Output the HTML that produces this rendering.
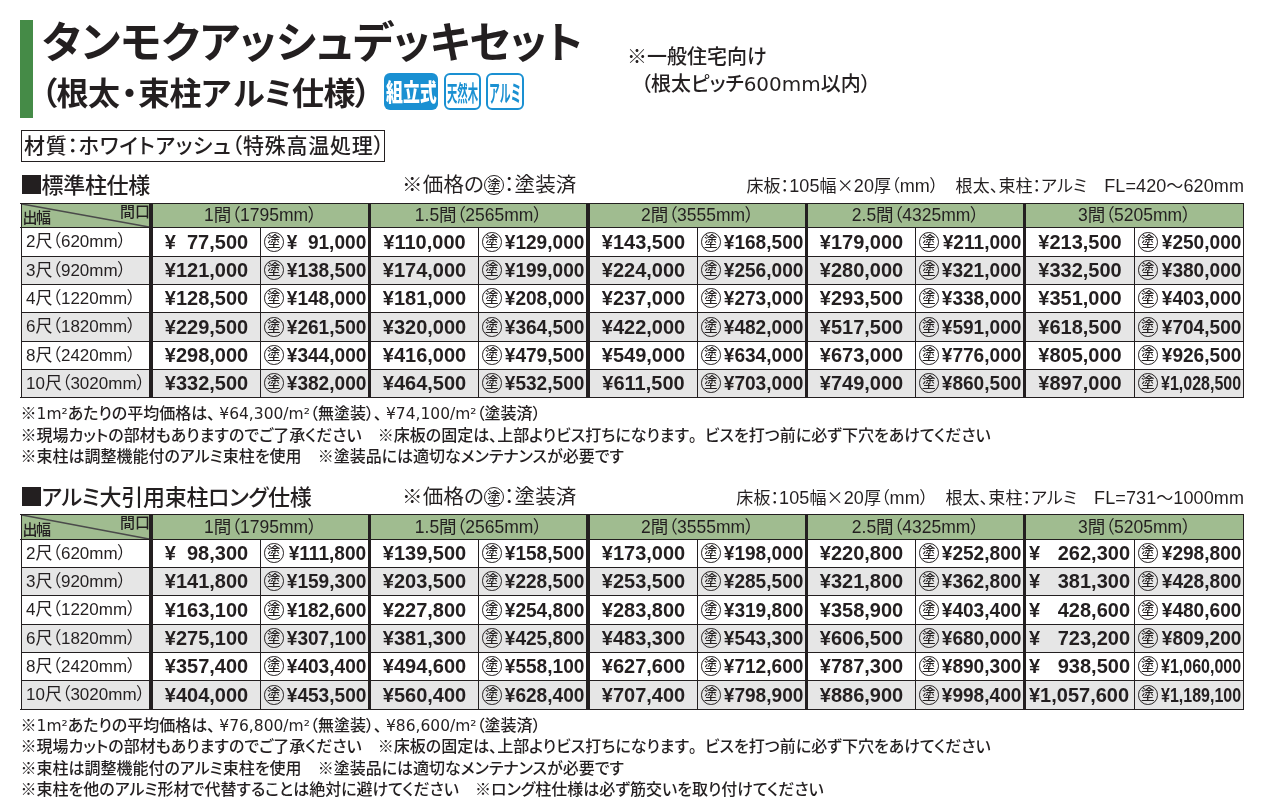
<!DOCTYPE html>
<html lang="ja"><head><meta charset="utf-8"><title>タンモクアッシュデッキセット</title>
<style>
*{margin:0;padding:0;box-sizing:border-box}
html,body{width:1261px;height:807px;overflow:hidden;background:#fff}
body{position:relative;color:#231f20;font-family:'Liberation Sans','Noto Sans CJK JP',sans-serif}
.bg,.ln,.t{position:absolute}
.ln{background:#231f20}
.t{white-space:nowrap}
.palt{font-feature-settings:'palt'}
.corner1,.corner2{font-size:15px;line-height:18px;font-family:'Noto Sans CJK JP',sans-serif;font-weight:500}
.hd{text-align:center;font-size:17.5px;font-feature-settings:'palt'}
.lb{font-size:17px;font-feature-settings:'palt'}
.pr{text-align:center;font-family:'Liberation Sans',sans-serif;font-weight:700;font-size:20px}
.pb .pv{display:inline-block;transform:scaleX(.955);transform-origin:right center}
.pr.pb{text-align:right}
.fs{display:inline-block;width:11px}
.nuri{position:absolute;width:19.5px;height:19.5px;border:1.3px solid #231f20;border-radius:50%;font:500 13.5px/15px 'Noto Sans CJK JP',sans-serif;text-align:center;letter-spacing:0}
.pb.cond .pv{display:inline-block;transform:scaleX(.8);transform-origin:right center}
.note{font-family:'Noto Sans CJK JP',sans-serif;font-size:16px;line-height:22px;font-weight:500}
.lt{font-family:'DejaVu Sans',sans-serif;font-size:15.5px;font-weight:400}
.fw{font-feature-settings:normal}
.tc{margin-right:4px}
.km{font-weight:700}
.ls{font-size:18px}
.wide{display:flex;justify-content:space-between;padding:0 4px 0 3px}
</style></head>
<body>
<div class="bg" style="left:20px;top:20px;width:13px;height:98px;background:#458b47"></div>
<div class="t" style="left:42px;top:14px;font:700 43px/1.2 'Noto Sans CJK JP',sans-serif;font-feature-settings:'palt';letter-spacing:0px">タンモクアッシュデッキセット</div>
<div class="t" style="left:41px;top:72px;font:700 32px/1.2 'Noto Sans CJK JP',sans-serif;font-feature-settings:'palt';letter-spacing:-0.5px">（根太<span style="margin:0 1px 0 2px">・</span>束柱ア<span style="margin-left:3px">ル</span>ミ仕様）</div>
<div class="bg" style="left:384px;top:73px;width:54px;height:37px;background:#1a90d2;border-radius:6px"></div>
<div class="t" style="left:385.5px;top:76px;width:52px;height:30px;color:#fff;font:900 24px/30px 'Noto Sans CJK JP',sans-serif;"><span style="display:inline-block;transform:scaleX(.705);transform-origin:left center">組立式</span></div>
<div class="bg" style="left:444px;top:73px;width:37px;height:37px;border:2.2px solid #1a90d2;border-radius:6px"></div>
<div class="t" style="left:447px;top:76px;color:#1a90d2;font:700 22px/30px 'Noto Sans CJK JP',sans-serif;"><span style="display:inline-block;transform:scaleX(.47);transform-origin:left center">天然木</span></div>
<div class="bg" style="left:486px;top:73px;width:38px;height:37px;border:2.2px solid #1a90d2;border-radius:6px"></div>
<div class="t" style="left:489px;top:76.5px;color:#1a90d2;font:700 23.5px/30px 'Noto Sans CJK JP',sans-serif;"><span style="display:inline-block;transform:scaleX(.46);transform-origin:left center">アルミ</span></div>
<div class="t palt" style="left:627px;top:42px;font-size:20px;line-height:28px;font-weight:500;font-family:'Noto Sans CJK JP',sans-serif"><span class="km">※</span>一般住宅向け</div>
<div class="t palt" style="left:641px;top:69px;font-size:20px;line-height:28px;font-weight:500;font-family:'Noto Sans CJK JP',sans-serif">（根太ピッチ<span style="font-family:'DejaVu Sans'">600mm</span>以内）</div>
<div class="bg" style="left:21px;top:130px;width:364px;height:32px;border:1px solid #231f20"></div>
<div class="t palt" style="left:24px;top:131px;font-size:21px;line-height:30px;letter-spacing:0.75px;font-weight:500">材質：ホワイトアッシュ（特殊高温処理）</div>
<div class="bg" style="left:22px;top:175px;width:19px;height:19px;background:#231f20"></div>
<div class="t palt" style="left:41.5px;top:169px;font-size:22px;line-height:28px;font-weight:500;font-family:'Noto Sans CJK JP',sans-serif;letter-spacing:-0.3px">標準柱仕様</div>
<div class="t palt" style="left:402px;top:171px;font-size:20.5px;line-height:28px;letter-spacing:0.2px"><span class="km">※</span>価格の</div>
<div class="nuri" style="left:484px;top:175px;width:20px;height:20px;font-size:13.5px;line-height:16.5px">塗</div>
<div class="t palt" style="left:504px;top:171px;font-size:20.5px;line-height:28px;letter-spacing:0.2px">：塗装済</div>
<div class="t palt" style="right:17px;top:172px;font-size:17px;line-height:26px;letter-spacing:0.1px">床板：<span class="ls">105</span>幅<span style="font-family:'Noto Sans CJK JP'">×</span><span class="ls">20</span>厚（<span class="ls">mm</span>）　根太、束柱：アルミ　<span class="ls">FL=420</span>〜<span class="ls">620mm</span></div>
<div class="bg" style="left:21px;top:203px;width:1223px;height:24px;background:#a0bc90"></div>
<div class="bg" style="left:21px;top:256px;width:1223px;height:28px;background:#e6e6e6"></div>
<div class="bg" style="left:21px;top:312px;width:1223px;height:29px;background:#e6e6e6"></div>
<div class="bg" style="left:21px;top:369px;width:1223px;height:28px;background:#e6e6e6"></div>
<svg class="bg" style="left:21px;top:203px" width="130" height="25"><line x1="1" y1="1" x2="128" y2="24" stroke="#4a4a4a" stroke-width="1.4"/></svg>
<div class="t corner1" style="left:22.5px;top:208px;letter-spacing:-1.5px">出幅</div>
<div class="t corner2" style="left:120px;top:202px">間口</div>
<div class="t hd" style="left:153px;top:203px;width:215px;height:24px;line-height:25px">1間（1795mm）</div>
<div class="t hd" style="left:371px;top:203px;width:215px;height:24px;line-height:25px">1.5間（2565mm）</div>
<div class="t hd" style="left:590px;top:203px;width:215px;height:24px;line-height:25px">2間（3555mm）</div>
<div class="t hd" style="left:808px;top:203px;width:215px;height:24px;line-height:25px">2.5間（4325mm）</div>
<div class="t hd" style="left:1026px;top:203px;width:217px;height:24px;line-height:25px">3間（5205mm）</div>
<div class="t lb" style="left:26px;top:227px;height:29px;line-height:30px">2尺（620mm）</div>
<div class="t pr" style="left:153px;top:227px;width:107px;height:29px;line-height:30px">¥<span class="fs"></span>77,500</div>
<div class="nuri" style="left:264px;top:232px">塗</div>
<div class="t pr pb" style="left:261px;top:227px;width:105.5px;height:29px;line-height:30px"><span class="pv">¥<span class="fs"></span>91,000</span></div>
<div class="t pr" style="left:371px;top:227px;width:107px;height:29px;line-height:30px">¥110,000</div>
<div class="nuri" style="left:482px;top:232px">塗</div>
<div class="t pr pb" style="left:479px;top:227px;width:105.5px;height:29px;line-height:30px"><span class="pv">¥129,000</span></div>
<div class="t pr" style="left:590px;top:227px;width:107px;height:29px;line-height:30px">¥143,500</div>
<div class="nuri" style="left:701px;top:232px">塗</div>
<div class="t pr pb" style="left:698px;top:227px;width:105.5px;height:29px;line-height:30px"><span class="pv">¥168,500</span></div>
<div class="t pr" style="left:808px;top:227px;width:107px;height:29px;line-height:30px">¥179,000</div>
<div class="nuri" style="left:919px;top:232px">塗</div>
<div class="t pr pb" style="left:916px;top:227px;width:105.5px;height:29px;line-height:30px"><span class="pv">¥211,000</span></div>
<div class="t pr" style="left:1026px;top:227px;width:108px;height:29px;line-height:30px">¥213,500</div>
<div class="nuri" style="left:1138px;top:232px">塗</div>
<div class="t pr pb" style="left:1135px;top:227px;width:106.5px;height:29px;line-height:30px"><span class="pv">¥250,000</span></div>
<div class="t lb" style="left:26px;top:256px;height:28px;line-height:29px">3尺（920mm）</div>
<div class="t pr" style="left:153px;top:256px;width:107px;height:28px;line-height:29px">¥121,000</div>
<div class="nuri" style="left:264px;top:260px">塗</div>
<div class="t pr pb" style="left:261px;top:256px;width:105.5px;height:28px;line-height:29px"><span class="pv">¥138,500</span></div>
<div class="t pr" style="left:371px;top:256px;width:107px;height:28px;line-height:29px">¥174,000</div>
<div class="nuri" style="left:482px;top:260px">塗</div>
<div class="t pr pb" style="left:479px;top:256px;width:105.5px;height:28px;line-height:29px"><span class="pv">¥199,000</span></div>
<div class="t pr" style="left:590px;top:256px;width:107px;height:28px;line-height:29px">¥224,000</div>
<div class="nuri" style="left:701px;top:260px">塗</div>
<div class="t pr pb" style="left:698px;top:256px;width:105.5px;height:28px;line-height:29px"><span class="pv">¥256,000</span></div>
<div class="t pr" style="left:808px;top:256px;width:107px;height:28px;line-height:29px">¥280,000</div>
<div class="nuri" style="left:919px;top:260px">塗</div>
<div class="t pr pb" style="left:916px;top:256px;width:105.5px;height:28px;line-height:29px"><span class="pv">¥321,000</span></div>
<div class="t pr" style="left:1026px;top:256px;width:108px;height:28px;line-height:29px">¥332,500</div>
<div class="nuri" style="left:1138px;top:260px">塗</div>
<div class="t pr pb" style="left:1135px;top:256px;width:106.5px;height:28px;line-height:29px"><span class="pv">¥380,000</span></div>
<div class="t lb" style="left:26px;top:284px;height:28px;line-height:29px">4尺（1220mm）</div>
<div class="t pr" style="left:153px;top:284px;width:107px;height:28px;line-height:29px">¥128,500</div>
<div class="nuri" style="left:264px;top:288px">塗</div>
<div class="t pr pb" style="left:261px;top:284px;width:105.5px;height:28px;line-height:29px"><span class="pv">¥148,000</span></div>
<div class="t pr" style="left:371px;top:284px;width:107px;height:28px;line-height:29px">¥181,000</div>
<div class="nuri" style="left:482px;top:288px">塗</div>
<div class="t pr pb" style="left:479px;top:284px;width:105.5px;height:28px;line-height:29px"><span class="pv">¥208,000</span></div>
<div class="t pr" style="left:590px;top:284px;width:107px;height:28px;line-height:29px">¥237,000</div>
<div class="nuri" style="left:701px;top:288px">塗</div>
<div class="t pr pb" style="left:698px;top:284px;width:105.5px;height:28px;line-height:29px"><span class="pv">¥273,000</span></div>
<div class="t pr" style="left:808px;top:284px;width:107px;height:28px;line-height:29px">¥293,500</div>
<div class="nuri" style="left:919px;top:288px">塗</div>
<div class="t pr pb" style="left:916px;top:284px;width:105.5px;height:28px;line-height:29px"><span class="pv">¥338,000</span></div>
<div class="t pr" style="left:1026px;top:284px;width:108px;height:28px;line-height:29px">¥351,000</div>
<div class="nuri" style="left:1138px;top:288px">塗</div>
<div class="t pr pb" style="left:1135px;top:284px;width:106.5px;height:28px;line-height:29px"><span class="pv">¥403,000</span></div>
<div class="t lb" style="left:26px;top:312px;height:29px;line-height:30px">6尺（1820mm）</div>
<div class="t pr" style="left:153px;top:312px;width:107px;height:29px;line-height:30px">¥229,500</div>
<div class="nuri" style="left:264px;top:317px">塗</div>
<div class="t pr pb" style="left:261px;top:312px;width:105.5px;height:29px;line-height:30px"><span class="pv">¥261,500</span></div>
<div class="t pr" style="left:371px;top:312px;width:107px;height:29px;line-height:30px">¥320,000</div>
<div class="nuri" style="left:482px;top:317px">塗</div>
<div class="t pr pb" style="left:479px;top:312px;width:105.5px;height:29px;line-height:30px"><span class="pv">¥364,500</span></div>
<div class="t pr" style="left:590px;top:312px;width:107px;height:29px;line-height:30px">¥422,000</div>
<div class="nuri" style="left:701px;top:317px">塗</div>
<div class="t pr pb" style="left:698px;top:312px;width:105.5px;height:29px;line-height:30px"><span class="pv">¥482,000</span></div>
<div class="t pr" style="left:808px;top:312px;width:107px;height:29px;line-height:30px">¥517,500</div>
<div class="nuri" style="left:919px;top:317px">塗</div>
<div class="t pr pb" style="left:916px;top:312px;width:105.5px;height:29px;line-height:30px"><span class="pv">¥591,000</span></div>
<div class="t pr" style="left:1026px;top:312px;width:108px;height:29px;line-height:30px">¥618,500</div>
<div class="nuri" style="left:1138px;top:317px">塗</div>
<div class="t pr pb" style="left:1135px;top:312px;width:106.5px;height:29px;line-height:30px"><span class="pv">¥704,500</span></div>
<div class="t lb" style="left:26px;top:341px;height:28px;line-height:29px">8尺（2420mm）</div>
<div class="t pr" style="left:153px;top:341px;width:107px;height:28px;line-height:29px">¥298,000</div>
<div class="nuri" style="left:264px;top:345px">塗</div>
<div class="t pr pb" style="left:261px;top:341px;width:105.5px;height:28px;line-height:29px"><span class="pv">¥344,000</span></div>
<div class="t pr" style="left:371px;top:341px;width:107px;height:28px;line-height:29px">¥416,000</div>
<div class="nuri" style="left:482px;top:345px">塗</div>
<div class="t pr pb" style="left:479px;top:341px;width:105.5px;height:28px;line-height:29px"><span class="pv">¥479,500</span></div>
<div class="t pr" style="left:590px;top:341px;width:107px;height:28px;line-height:29px">¥549,000</div>
<div class="nuri" style="left:701px;top:345px">塗</div>
<div class="t pr pb" style="left:698px;top:341px;width:105.5px;height:28px;line-height:29px"><span class="pv">¥634,000</span></div>
<div class="t pr" style="left:808px;top:341px;width:107px;height:28px;line-height:29px">¥673,000</div>
<div class="nuri" style="left:919px;top:345px">塗</div>
<div class="t pr pb" style="left:916px;top:341px;width:105.5px;height:28px;line-height:29px"><span class="pv">¥776,000</span></div>
<div class="t pr" style="left:1026px;top:341px;width:108px;height:28px;line-height:29px">¥805,000</div>
<div class="nuri" style="left:1138px;top:345px">塗</div>
<div class="t pr pb" style="left:1135px;top:341px;width:106.5px;height:28px;line-height:29px"><span class="pv">¥926,500</span></div>
<div class="t lb" style="left:26px;top:369px;height:28px;line-height:29px">10尺（3020mm）</div>
<div class="t pr" style="left:153px;top:369px;width:107px;height:28px;line-height:29px">¥332,500</div>
<div class="nuri" style="left:264px;top:373px">塗</div>
<div class="t pr pb" style="left:261px;top:369px;width:105.5px;height:28px;line-height:29px"><span class="pv">¥382,000</span></div>
<div class="t pr" style="left:371px;top:369px;width:107px;height:28px;line-height:29px">¥464,500</div>
<div class="nuri" style="left:482px;top:373px">塗</div>
<div class="t pr pb" style="left:479px;top:369px;width:105.5px;height:28px;line-height:29px"><span class="pv">¥532,500</span></div>
<div class="t pr" style="left:590px;top:369px;width:107px;height:28px;line-height:29px">¥611,500</div>
<div class="nuri" style="left:701px;top:373px">塗</div>
<div class="t pr pb" style="left:698px;top:369px;width:105.5px;height:28px;line-height:29px"><span class="pv">¥703,000</span></div>
<div class="t pr" style="left:808px;top:369px;width:107px;height:28px;line-height:29px">¥749,000</div>
<div class="nuri" style="left:919px;top:373px">塗</div>
<div class="t pr pb" style="left:916px;top:369px;width:105.5px;height:28px;line-height:29px"><span class="pv">¥860,500</span></div>
<div class="t pr" style="left:1026px;top:369px;width:108px;height:28px;line-height:29px">¥897,000</div>
<div class="nuri" style="left:1138px;top:373px">塗</div>
<div class="t pr pb cond" style="left:1135px;top:369px;width:106.5px;height:28px;line-height:29px"><span class="pv">¥1,028,500</span></div>
<div class="ln" style="left:20px;top:203px;width:1224px;height:1px"></div>
<div class="ln" style="left:20px;top:227px;width:1224px;height:1px"></div>
<div class="ln" style="left:21px;top:256px;width:1223px;height:1px"></div>
<div class="ln" style="left:21px;top:284px;width:1223px;height:1px"></div>
<div class="ln" style="left:21px;top:312px;width:1223px;height:1px"></div>
<div class="ln" style="left:21px;top:341px;width:1223px;height:1px"></div>
<div class="ln" style="left:21px;top:369px;width:1223px;height:1px"></div>
<div class="ln" style="left:20px;top:397px;width:1224px;height:1px"></div>
<div class="ln" style="left:21px;top:203px;width:1px;height:195px"></div>
<div class="ln" style="left:1243px;top:203px;width:1px;height:195px"></div>
<div class="ln" style="left:149px;top:203px;width:4px;height:195px"></div>
<div class="ln" style="left:368px;top:203px;width:3px;height:195px"></div>
<div class="ln" style="left:586px;top:203px;width:4px;height:195px"></div>
<div class="ln" style="left:805px;top:203px;width:3px;height:195px"></div>
<div class="ln" style="left:1023px;top:203px;width:3px;height:195px"></div>
<div class="ln" style="left:260px;top:227px;width:1px;height:171px"></div>
<div class="ln" style="left:478px;top:227px;width:1px;height:171px"></div>
<div class="ln" style="left:697px;top:227px;width:1px;height:171px"></div>
<div class="ln" style="left:915px;top:227px;width:1px;height:171px"></div>
<div class="ln" style="left:1134px;top:227px;width:1px;height:171px"></div>
<div class="t palt note" style="left:20.5px;top:401.0px"><span class="km">※</span><span class="lt">1m²</span>あたりの平均価格は<span class="tc">、</span><span class="lt">¥64,300/m²</span>（無塗装）<span class="tc">、</span><span class="lt">¥74,100/m²</span>（塗装済）</div>
<div class="t palt note" style="left:20.5px;top:422.6px"><span class="km">※</span>現場カットの部材もありますのでご了承ください　<span class="km">※</span>床板の固定は、上部よりビス打ちになります<span class="fw">。</span>ビスを打つ前に必ず下穴をあけてください</div>
<div class="t palt note" style="left:20.5px;top:444.2px"><span class="km">※</span>束柱は調整機能付のアルミ束柱を使用　<span class="km">※</span>塗装品には適切なメンテナンスが必要です</div>
<div class="bg" style="left:22px;top:487px;width:19px;height:19px;background:#231f20"></div>
<div class="t palt" style="left:41.5px;top:481px;font-size:22px;line-height:28px;font-weight:500;font-family:'Noto Sans CJK JP',sans-serif;letter-spacing:-0.3px">アルミ大引用束柱ロング仕様</div>
<div class="t palt" style="left:402px;top:483px;font-size:20.5px;line-height:28px;letter-spacing:0.2px"><span class="km">※</span>価格の</div>
<div class="nuri" style="left:484px;top:487px;width:20px;height:20px;font-size:13.5px;line-height:16.5px">塗</div>
<div class="t palt" style="left:504px;top:483px;font-size:20.5px;line-height:28px;letter-spacing:0.2px">：塗装済</div>
<div class="t palt" style="right:17px;top:484px;font-size:17px;line-height:26px;letter-spacing:0.1px">床板：<span class="ls">105</span>幅<span style="font-family:'Noto Sans CJK JP'">×</span><span class="ls">20</span>厚（<span class="ls">mm</span>）　根太、束柱：アルミ　<span class="ls">FL=731</span>〜<span class="ls">1000mm</span></div>
<div class="bg" style="left:21px;top:514px;width:1223px;height:25px;background:#a0bc90"></div>
<div class="bg" style="left:21px;top:567px;width:1223px;height:28px;background:#e6e6e6"></div>
<div class="bg" style="left:21px;top:624px;width:1223px;height:28px;background:#e6e6e6"></div>
<div class="bg" style="left:21px;top:680px;width:1223px;height:29px;background:#e6e6e6"></div>
<svg class="bg" style="left:21px;top:514px" width="130" height="26"><line x1="1" y1="1" x2="128" y2="25" stroke="#4a4a4a" stroke-width="1.4"/></svg>
<div class="t corner1" style="left:22.5px;top:520px;letter-spacing:-1.5px">出幅</div>
<div class="t corner2" style="left:120px;top:513px">間口</div>
<div class="t hd" style="left:153px;top:514px;width:215px;height:25px;line-height:26px">1間（1795mm）</div>
<div class="t hd" style="left:371px;top:514px;width:215px;height:25px;line-height:26px">1.5間（2565mm）</div>
<div class="t hd" style="left:590px;top:514px;width:215px;height:25px;line-height:26px">2間（3555mm）</div>
<div class="t hd" style="left:808px;top:514px;width:215px;height:25px;line-height:26px">2.5間（4325mm）</div>
<div class="t hd" style="left:1026px;top:514px;width:217px;height:25px;line-height:26px">3間（5205mm）</div>
<div class="t lb" style="left:26px;top:539px;height:28px;line-height:29px">2尺（620mm）</div>
<div class="t pr" style="left:153px;top:539px;width:107px;height:28px;line-height:29px">¥<span class="fs"></span>98,300</div>
<div class="nuri" style="left:264px;top:543px">塗</div>
<div class="t pr pb" style="left:261px;top:539px;width:105.5px;height:28px;line-height:29px"><span class="pv">¥111,800</span></div>
<div class="t pr" style="left:371px;top:539px;width:107px;height:28px;line-height:29px">¥139,500</div>
<div class="nuri" style="left:482px;top:543px">塗</div>
<div class="t pr pb" style="left:479px;top:539px;width:105.5px;height:28px;line-height:29px"><span class="pv">¥158,500</span></div>
<div class="t pr" style="left:590px;top:539px;width:107px;height:28px;line-height:29px">¥173,000</div>
<div class="nuri" style="left:701px;top:543px">塗</div>
<div class="t pr pb" style="left:698px;top:539px;width:105.5px;height:28px;line-height:29px"><span class="pv">¥198,000</span></div>
<div class="t pr" style="left:808px;top:539px;width:107px;height:28px;line-height:29px">¥220,800</div>
<div class="nuri" style="left:919px;top:543px">塗</div>
<div class="t pr pb" style="left:916px;top:539px;width:105.5px;height:28px;line-height:29px"><span class="pv">¥252,800</span></div>
<div class="t pr wide" style="left:1026px;top:539px;width:108px;height:28px;line-height:29px"><span class="yl">¥</span><span class="yr">262,300</span></div>
<div class="nuri" style="left:1138px;top:543px">塗</div>
<div class="t pr pb" style="left:1135px;top:539px;width:106.5px;height:28px;line-height:29px"><span class="pv">¥298,800</span></div>
<div class="t lb" style="left:26px;top:567px;height:28px;line-height:29px">3尺（920mm）</div>
<div class="t pr" style="left:153px;top:567px;width:107px;height:28px;line-height:29px">¥141,800</div>
<div class="nuri" style="left:264px;top:571px">塗</div>
<div class="t pr pb" style="left:261px;top:567px;width:105.5px;height:28px;line-height:29px"><span class="pv">¥159,300</span></div>
<div class="t pr" style="left:371px;top:567px;width:107px;height:28px;line-height:29px">¥203,500</div>
<div class="nuri" style="left:482px;top:571px">塗</div>
<div class="t pr pb" style="left:479px;top:567px;width:105.5px;height:28px;line-height:29px"><span class="pv">¥228,500</span></div>
<div class="t pr" style="left:590px;top:567px;width:107px;height:28px;line-height:29px">¥253,500</div>
<div class="nuri" style="left:701px;top:571px">塗</div>
<div class="t pr pb" style="left:698px;top:567px;width:105.5px;height:28px;line-height:29px"><span class="pv">¥285,500</span></div>
<div class="t pr" style="left:808px;top:567px;width:107px;height:28px;line-height:29px">¥321,800</div>
<div class="nuri" style="left:919px;top:571px">塗</div>
<div class="t pr pb" style="left:916px;top:567px;width:105.5px;height:28px;line-height:29px"><span class="pv">¥362,800</span></div>
<div class="t pr wide" style="left:1026px;top:567px;width:108px;height:28px;line-height:29px"><span class="yl">¥</span><span class="yr">381,300</span></div>
<div class="nuri" style="left:1138px;top:571px">塗</div>
<div class="t pr pb" style="left:1135px;top:567px;width:106.5px;height:28px;line-height:29px"><span class="pv">¥428,800</span></div>
<div class="t lb" style="left:26px;top:595px;height:29px;line-height:30px">4尺（1220mm）</div>
<div class="t pr" style="left:153px;top:595px;width:107px;height:29px;line-height:30px">¥163,100</div>
<div class="nuri" style="left:264px;top:600px">塗</div>
<div class="t pr pb" style="left:261px;top:595px;width:105.5px;height:29px;line-height:30px"><span class="pv">¥182,600</span></div>
<div class="t pr" style="left:371px;top:595px;width:107px;height:29px;line-height:30px">¥227,800</div>
<div class="nuri" style="left:482px;top:600px">塗</div>
<div class="t pr pb" style="left:479px;top:595px;width:105.5px;height:29px;line-height:30px"><span class="pv">¥254,800</span></div>
<div class="t pr" style="left:590px;top:595px;width:107px;height:29px;line-height:30px">¥283,800</div>
<div class="nuri" style="left:701px;top:600px">塗</div>
<div class="t pr pb" style="left:698px;top:595px;width:105.5px;height:29px;line-height:30px"><span class="pv">¥319,800</span></div>
<div class="t pr" style="left:808px;top:595px;width:107px;height:29px;line-height:30px">¥358,900</div>
<div class="nuri" style="left:919px;top:600px">塗</div>
<div class="t pr pb" style="left:916px;top:595px;width:105.5px;height:29px;line-height:30px"><span class="pv">¥403,400</span></div>
<div class="t pr wide" style="left:1026px;top:595px;width:108px;height:29px;line-height:30px"><span class="yl">¥</span><span class="yr">428,600</span></div>
<div class="nuri" style="left:1138px;top:600px">塗</div>
<div class="t pr pb" style="left:1135px;top:595px;width:106.5px;height:29px;line-height:30px"><span class="pv">¥480,600</span></div>
<div class="t lb" style="left:26px;top:624px;height:28px;line-height:29px">6尺（1820mm）</div>
<div class="t pr" style="left:153px;top:624px;width:107px;height:28px;line-height:29px">¥275,100</div>
<div class="nuri" style="left:264px;top:628px">塗</div>
<div class="t pr pb" style="left:261px;top:624px;width:105.5px;height:28px;line-height:29px"><span class="pv">¥307,100</span></div>
<div class="t pr" style="left:371px;top:624px;width:107px;height:28px;line-height:29px">¥381,300</div>
<div class="nuri" style="left:482px;top:628px">塗</div>
<div class="t pr pb" style="left:479px;top:624px;width:105.5px;height:28px;line-height:29px"><span class="pv">¥425,800</span></div>
<div class="t pr" style="left:590px;top:624px;width:107px;height:28px;line-height:29px">¥483,300</div>
<div class="nuri" style="left:701px;top:628px">塗</div>
<div class="t pr pb" style="left:698px;top:624px;width:105.5px;height:28px;line-height:29px"><span class="pv">¥543,300</span></div>
<div class="t pr" style="left:808px;top:624px;width:107px;height:28px;line-height:29px">¥606,500</div>
<div class="nuri" style="left:919px;top:628px">塗</div>
<div class="t pr pb" style="left:916px;top:624px;width:105.5px;height:28px;line-height:29px"><span class="pv">¥680,000</span></div>
<div class="t pr wide" style="left:1026px;top:624px;width:108px;height:28px;line-height:29px"><span class="yl">¥</span><span class="yr">723,200</span></div>
<div class="nuri" style="left:1138px;top:628px">塗</div>
<div class="t pr pb" style="left:1135px;top:624px;width:106.5px;height:28px;line-height:29px"><span class="pv">¥809,200</span></div>
<div class="t lb" style="left:26px;top:652px;height:28px;line-height:29px">8尺（2420mm）</div>
<div class="t pr" style="left:153px;top:652px;width:107px;height:28px;line-height:29px">¥357,400</div>
<div class="nuri" style="left:264px;top:656px">塗</div>
<div class="t pr pb" style="left:261px;top:652px;width:105.5px;height:28px;line-height:29px"><span class="pv">¥403,400</span></div>
<div class="t pr" style="left:371px;top:652px;width:107px;height:28px;line-height:29px">¥494,600</div>
<div class="nuri" style="left:482px;top:656px">塗</div>
<div class="t pr pb" style="left:479px;top:652px;width:105.5px;height:28px;line-height:29px"><span class="pv">¥558,100</span></div>
<div class="t pr" style="left:590px;top:652px;width:107px;height:28px;line-height:29px">¥627,600</div>
<div class="nuri" style="left:701px;top:656px">塗</div>
<div class="t pr pb" style="left:698px;top:652px;width:105.5px;height:28px;line-height:29px"><span class="pv">¥712,600</span></div>
<div class="t pr" style="left:808px;top:652px;width:107px;height:28px;line-height:29px">¥787,300</div>
<div class="nuri" style="left:919px;top:656px">塗</div>
<div class="t pr pb" style="left:916px;top:652px;width:105.5px;height:28px;line-height:29px"><span class="pv">¥890,300</span></div>
<div class="t pr wide" style="left:1026px;top:652px;width:108px;height:28px;line-height:29px"><span class="yl">¥</span><span class="yr">938,500</span></div>
<div class="nuri" style="left:1138px;top:656px">塗</div>
<div class="t pr pb cond" style="left:1135px;top:652px;width:106.5px;height:28px;line-height:29px"><span class="pv">¥1,060,000</span></div>
<div class="t lb" style="left:26px;top:680px;height:29px;line-height:30px">10尺（3020mm）</div>
<div class="t pr" style="left:153px;top:680px;width:107px;height:29px;line-height:30px">¥404,000</div>
<div class="nuri" style="left:264px;top:685px">塗</div>
<div class="t pr pb" style="left:261px;top:680px;width:105.5px;height:29px;line-height:30px"><span class="pv">¥453,500</span></div>
<div class="t pr" style="left:371px;top:680px;width:107px;height:29px;line-height:30px">¥560,400</div>
<div class="nuri" style="left:482px;top:685px">塗</div>
<div class="t pr pb" style="left:479px;top:680px;width:105.5px;height:29px;line-height:30px"><span class="pv">¥628,400</span></div>
<div class="t pr" style="left:590px;top:680px;width:107px;height:29px;line-height:30px">¥707,400</div>
<div class="nuri" style="left:701px;top:685px">塗</div>
<div class="t pr pb" style="left:698px;top:680px;width:105.5px;height:29px;line-height:30px"><span class="pv">¥798,900</span></div>
<div class="t pr" style="left:808px;top:680px;width:107px;height:29px;line-height:30px">¥886,900</div>
<div class="nuri" style="left:919px;top:685px">塗</div>
<div class="t pr pb" style="left:916px;top:680px;width:105.5px;height:29px;line-height:30px"><span class="pv">¥998,400</span></div>
<div class="t pr wide" style="left:1026px;top:680px;width:108px;height:29px;line-height:30px">¥1,057,600</div>
<div class="nuri" style="left:1138px;top:685px">塗</div>
<div class="t pr pb cond" style="left:1135px;top:680px;width:106.5px;height:29px;line-height:30px"><span class="pv">¥1,189,100</span></div>
<div class="ln" style="left:20px;top:514px;width:1224px;height:1px"></div>
<div class="ln" style="left:20px;top:539px;width:1224px;height:1px"></div>
<div class="ln" style="left:21px;top:567px;width:1223px;height:1px"></div>
<div class="ln" style="left:21px;top:595px;width:1223px;height:1px"></div>
<div class="ln" style="left:21px;top:624px;width:1223px;height:1px"></div>
<div class="ln" style="left:21px;top:652px;width:1223px;height:1px"></div>
<div class="ln" style="left:21px;top:680px;width:1223px;height:1px"></div>
<div class="ln" style="left:20px;top:709px;width:1224px;height:1px"></div>
<div class="ln" style="left:21px;top:514px;width:1px;height:196px"></div>
<div class="ln" style="left:1243px;top:514px;width:1px;height:196px"></div>
<div class="ln" style="left:149px;top:514px;width:4px;height:196px"></div>
<div class="ln" style="left:368px;top:514px;width:3px;height:196px"></div>
<div class="ln" style="left:586px;top:514px;width:4px;height:196px"></div>
<div class="ln" style="left:805px;top:514px;width:3px;height:196px"></div>
<div class="ln" style="left:1023px;top:514px;width:3px;height:196px"></div>
<div class="ln" style="left:260px;top:539px;width:1px;height:171px"></div>
<div class="ln" style="left:478px;top:539px;width:1px;height:171px"></div>
<div class="ln" style="left:697px;top:539px;width:1px;height:171px"></div>
<div class="ln" style="left:915px;top:539px;width:1px;height:171px"></div>
<div class="ln" style="left:1134px;top:539px;width:1px;height:171px"></div>
<div class="t palt note" style="left:20.5px;top:712.5px"><span class="km">※</span><span class="lt">1m²</span>あたりの平均価格は<span class="tc">、</span><span class="lt">¥76,800/m²</span>（無塗装）<span class="tc">、</span><span class="lt">¥86,600/m²</span>（塗装済）</div>
<div class="t palt note" style="left:20.5px;top:734.1px"><span class="km">※</span>現場カットの部材もありますのでご了承ください　<span class="km">※</span>床板の固定は、上部よりビス打ちになります<span class="fw">。</span>ビスを打つ前に必ず下穴をあけてください</div>
<div class="t palt note" style="left:20.5px;top:755.7px"><span class="km">※</span>束柱は調整機能付のアルミ束柱を使用　<span class="km">※</span>塗装品には適切なメンテナンスが必要です</div>
<div class="t palt note" style="left:20.5px;top:777.3px"><span class="km">※</span>束柱を他のアルミ形材で代替することは絶対に避けてください　<span class="km">※</span>ロング柱仕様は必ず筋交いを取り付けてください</div>
</body></html>
